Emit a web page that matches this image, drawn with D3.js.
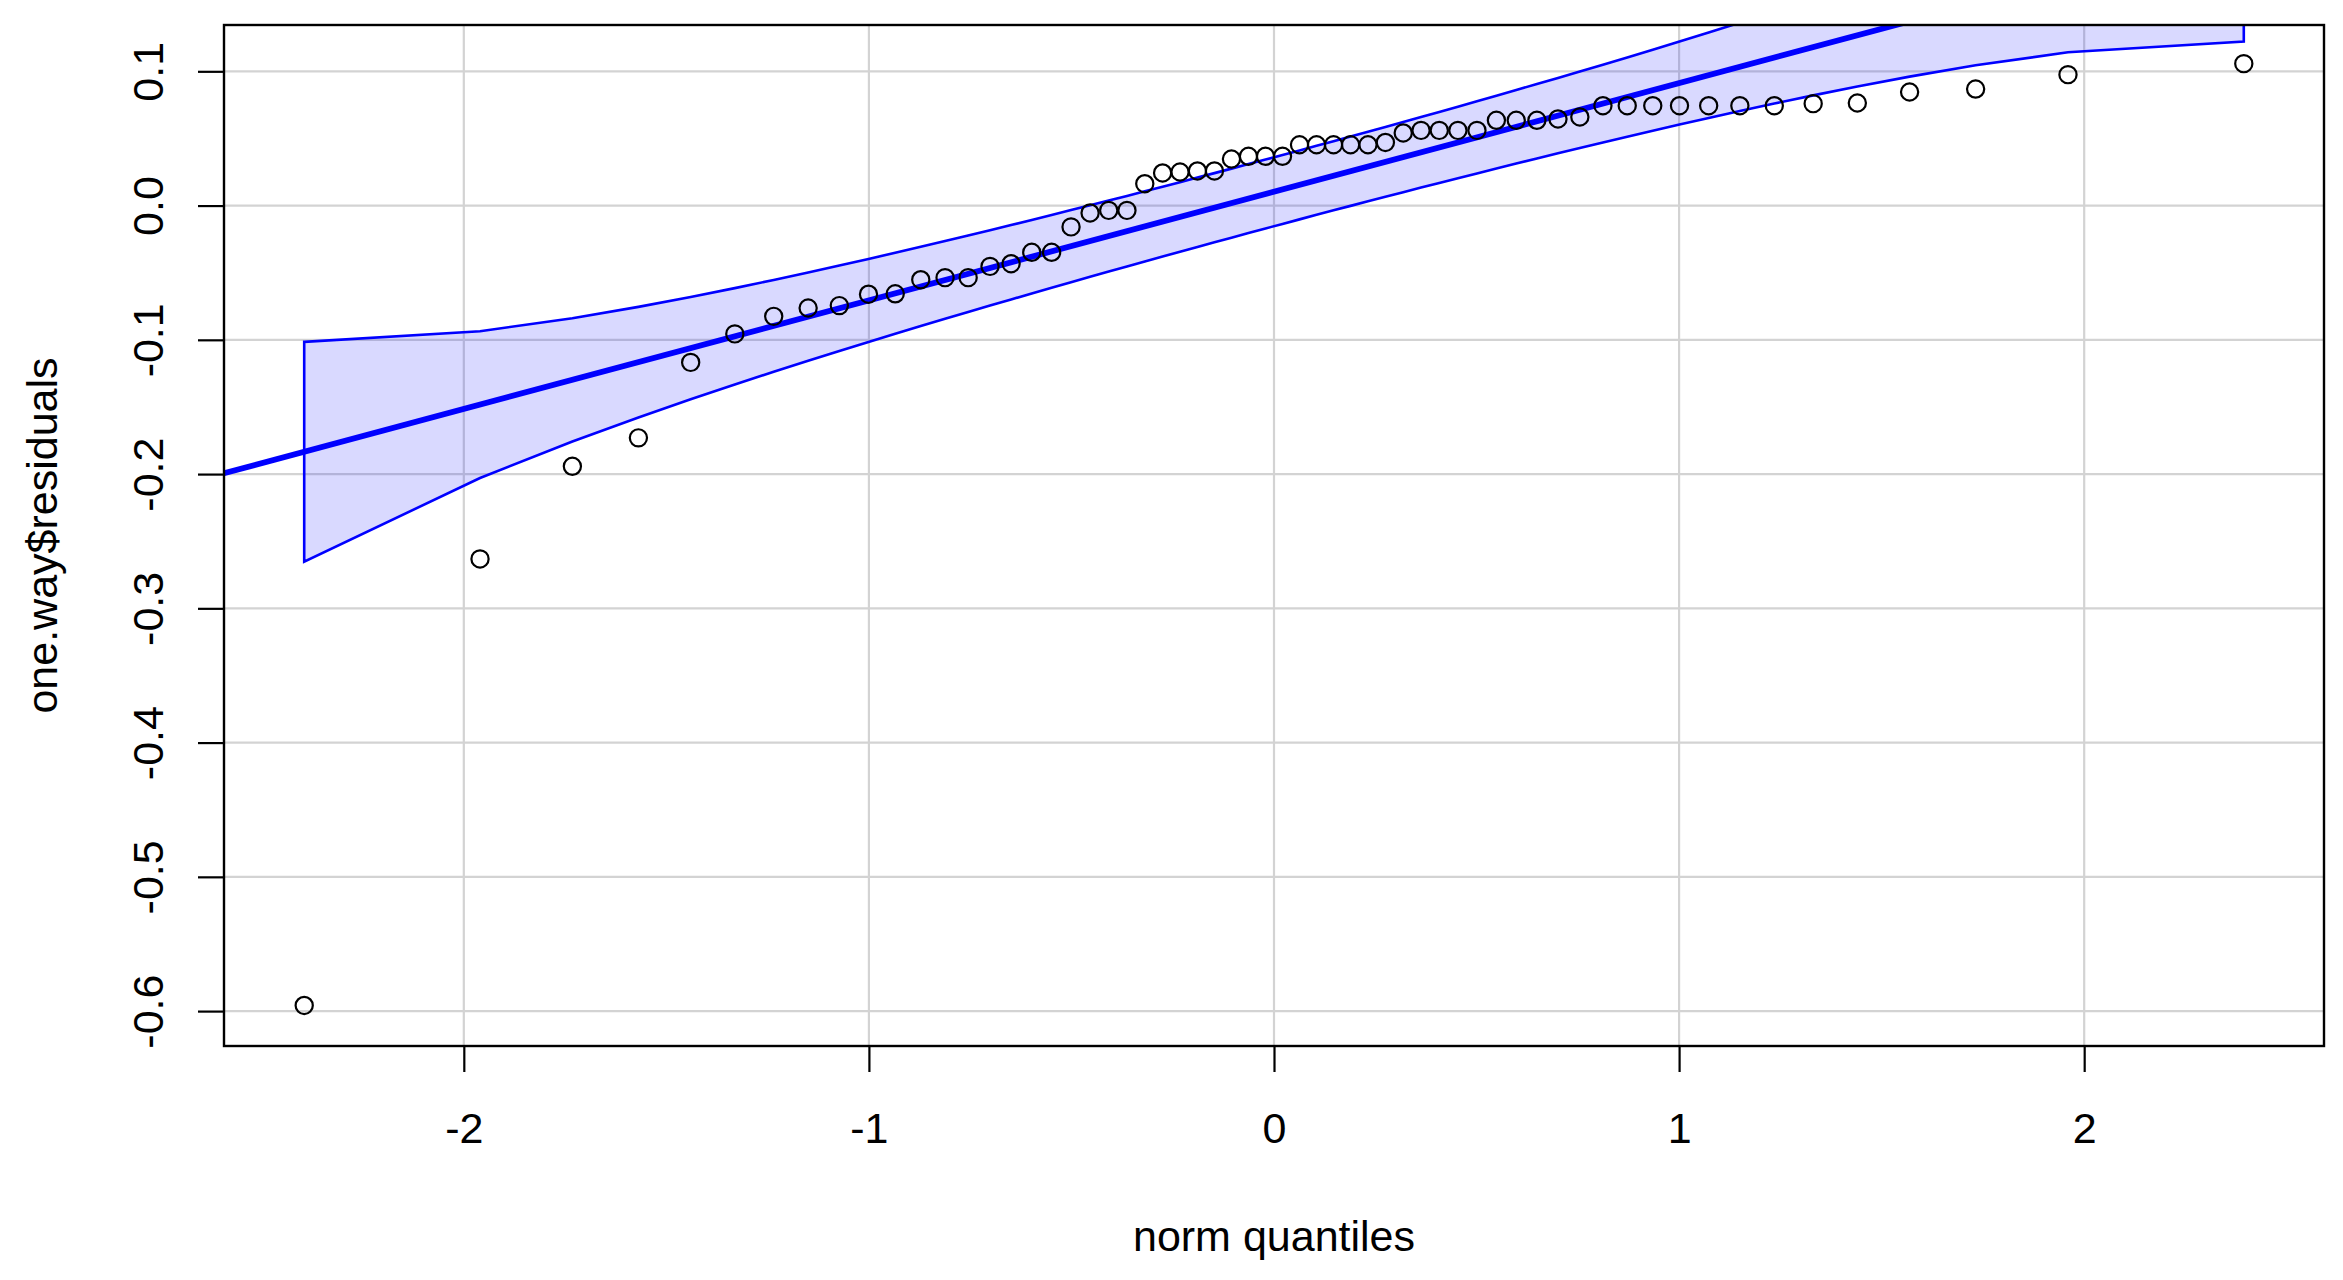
<!DOCTYPE html>
<html>
<head>
<meta charset="utf-8">
<script src="https://cdn.jsdelivr.net/npm/d3@7/dist/d3.min.js"></script>
<style>
  html, body { margin: 0; padding: 0; background: #ffffff; }
  svg { display: block; }
  text { font-family: "Liberation Sans", Arial, sans-serif; fill: #000; }
</style>
</head>
<body>
<svg id="chart" width="2343" height="1280"></svg>
<script>
// ---- data ----
const xQuantiles = [
  -2.394, -1.960, -1.732, -1.569, -1.440, -1.331, -1.235, -1.150, -1.073, -1.001,
  -0.935, -0.872, -0.812, -0.755, -0.701, -0.649, -0.598, -0.549, -0.501, -0.454,
  -0.408, -0.363, -0.319, -0.275, -0.232, -0.189, -0.147, -0.105, -0.063, -0.021,
   0.021,  0.063,  0.105,  0.147,  0.189,  0.232,  0.275,  0.319,  0.363,  0.408,
   0.454,  0.501,  0.549,  0.598,  0.649,  0.701,  0.755,  0.812,  0.872,  0.935,
   1.001,  1.073,  1.150,  1.235,  1.331,  1.440,  1.569,  1.732,  1.960,  2.394
];
const residuals = [
  -0.5958, -0.2632, -0.1942, -0.1730, -0.1168, -0.0956, -0.0825, -0.0763, -0.0745, -0.0660,
  -0.0657, -0.0552, -0.0537, -0.0537, -0.0453, -0.0433, -0.0348, -0.0348, -0.0159, -0.0055,
  -0.0036, -0.0036,  0.0163,  0.0243,  0.0250,  0.0258,  0.0258,  0.0347,  0.0367,  0.0367,
   0.0367,  0.0453,  0.0453,  0.0453,  0.0453,  0.0453,  0.0470,  0.0541,  0.0560,  0.0560,
   0.0560,  0.0560,  0.0635,  0.0635,  0.0635,  0.0645,  0.0660,  0.0744,  0.0744,  0.0744,
   0.0744,  0.0744,  0.0744,  0.0744,  0.0759,  0.0764,  0.0846,  0.0868,  0.0975,  0.1057
];
const envUpper = [
  -0.10150, -0.09358, -0.08387, -0.07545, -0.06808, -0.06148, -0.05542, -0.04986, -0.04469, -0.03976,
  -0.03515, -0.03070, -0.02641, -0.02229, -0.01832, -0.01447, -0.01068, -0.00699, -0.00336,  0.00022,
   0.00374,  0.00721,  0.01063,  0.01406,  0.01744,  0.02083,  0.02417,  0.02752,  0.03088,  0.03426,
   0.03766,  0.04108,  0.04450,  0.04795,  0.05141,  0.05498,  0.05856,  0.06225,  0.06595,  0.06976,
   0.07368,  0.07770,  0.08183,  0.08608,  0.09053,  0.09510,  0.09987,  0.10497,  0.11038,  0.11613,
   0.12220,  0.12893,  0.13622,  0.14440,  0.15388,  0.16492,  0.17841,  0.19637,  0.22354,  0.28584
];
const envLower = [
  -0.26524, -0.20294, -0.17577, -0.15781, -0.14432, -0.13328, -0.12380, -0.11562, -0.10833, -0.10160,
  -0.09553, -0.08978, -0.08437, -0.07927, -0.07450, -0.06993, -0.06548, -0.06123, -0.05710, -0.05308,
  -0.04916, -0.04535, -0.04165, -0.03796, -0.03438, -0.03081, -0.02735, -0.02390, -0.02048, -0.01706,
  -0.01366, -0.01028, -0.00692, -0.00357, -0.00023,  0.00316,  0.00654,  0.00997,  0.01339,  0.01686,
   0.02038,  0.02396,  0.02759,  0.03128,  0.03507,  0.03892,  0.04289,  0.04701,  0.05130,  0.05575,
   0.06036,  0.06529,  0.07046,  0.07602,  0.08208,  0.08868,  0.09605,  0.10447,  0.11418,  0.12210
];
const fitIntercept = 0.0103;
const fitSlope = 0.0809;
const xTicks = [-2, -1, 0, 1, 2];
const xTickLabels = ["-2", "-1", "0", "1", "2"];
const yTicks = [0.1, 0.0, -0.1, -0.2, -0.3, -0.4, -0.5, -0.6];
const yTickLabels = ["0.1", "0.0", "-0.1", "-0.2", "-0.3", "-0.4", "-0.5", "-0.6"];
const xLimits = [-2.592, 2.592];
const yLimits = [-0.626, 0.1345];
const xTitle = "norm quantiles";
const yTitle = "one.way$residuals";

// ---- layout ----
const W = 2343, H = 1280;
const plot = { left: 224, right: 2324, top: 25, bottom: 1046 };
const fontSize = 43;
const tickLen = 26;

const svg = d3.select("#chart");
svg.append("rect").attr("width", W).attr("height", H).attr("fill", "#ffffff");

const x = d3.scaleLinear().domain(xLimits).range([plot.left, plot.right]);
const y = d3.scaleLinear().domain(yLimits).range([plot.bottom, plot.top]);

svg.append("defs").append("clipPath").attr("id", "plotclip")
  .append("rect")
  .attr("x", plot.left).attr("y", plot.top)
  .attr("width", plot.right - plot.left).attr("height", plot.bottom - plot.top);

// grid
const grid = svg.append("g").attr("clip-path", "url(#plotclip)");
grid.selectAll("line.gx").data(xTicks).join("line")
  .attr("x1", d => x(d)).attr("x2", d => x(d))
  .attr("y1", plot.top).attr("y2", plot.bottom)
  .attr("stroke", "#d3d3d3").attr("stroke-width", 2.2);
grid.selectAll("line.gy").data(yTicks).join("line")
  .attr("x1", plot.left).attr("x2", plot.right)
  .attr("y1", d => y(d)).attr("y2", d => y(d))
  .attr("stroke", "#d3d3d3").attr("stroke-width", 2.2);

// envelope
const clipped = svg.append("g").attr("clip-path", "url(#plotclip)");
const envPts = xQuantiles.map((q, i) => [x(q), y(envUpper[i])])
  .concat(xQuantiles.map((q, i) => [x(q), y(envLower[i])]).reverse());
clipped.append("path")
  .attr("d", d3.line()(envPts) + "Z")
  .attr("fill", "rgba(0,0,255,0.15)")
  .attr("stroke", "#0000ff").attr("stroke-width", 2.6)
  .attr("stroke-linejoin", "miter");

// fitted line
clipped.append("line")
  .attr("x1", x(xLimits[0])).attr("y1", y(fitIntercept + fitSlope * xLimits[0]))
  .attr("x2", x(xLimits[1])).attr("y2", y(fitIntercept + fitSlope * xLimits[1]))
  .attr("stroke", "#0000ff").attr("stroke-width", 5.8);

// points
svg.append("g").selectAll("circle").data(xQuantiles).join("circle")
  .attr("cx", d => x(d))
  .attr("cy", (d, i) => y(residuals[i]))
  .attr("r", 8.6)
  .attr("fill", "none").attr("stroke", "#000").attr("stroke-width", 2.2);

// box
svg.append("rect")
  .attr("x", plot.left).attr("y", plot.top)
  .attr("width", plot.right - plot.left).attr("height", plot.bottom - plot.top)
  .attr("fill", "none").attr("stroke", "#000").attr("stroke-width", 2.4);

// x axis
const xAxis = d3.axisBottom(x).tickValues(xTicks).tickSize(tickLen).tickSizeOuter(0)
  .tickFormat((d, i) => xTickLabels[i]);
const gx = svg.append("g").attr("transform", `translate(0,${plot.bottom})`).call(xAxis);
gx.select(".domain").remove();
gx.selectAll(".tick line").attr("stroke", "#000").attr("stroke-width", 2.2);
gx.selectAll(".tick text")
  .attr("font-size", fontSize).attr("font-family", "Liberation Sans, Arial, sans-serif")
  .attr("fill", "#000").attr("dy", null).attr("y", 97);

// y axis
const yAxis = d3.axisLeft(y).tickValues(yTicks).tickSize(tickLen).tickSizeOuter(0)
  .tickFormat((d, i) => yTickLabels[i]);
const gy = svg.append("g").attr("transform", `translate(${plot.left},0)`).call(yAxis);
gy.select(".domain").remove();
gy.selectAll(".tick line").attr("stroke", "#000").attr("stroke-width", 2.2);
gy.selectAll(".tick text")
  .attr("font-size", fontSize).attr("font-family", "Liberation Sans, Arial, sans-serif")
  .attr("fill", "#000")
  .attr("x", null).attr("dy", null)
  .attr("text-anchor", "middle")
  .attr("transform", `translate(${163 - plot.left},0) rotate(-90)`);

// titles
svg.append("text")
  .attr("x", (plot.left + plot.right) / 2).attr("y", 1251)
  .attr("text-anchor", "middle").attr("font-size", fontSize)
  .text(xTitle);
svg.append("text")
  .attr("transform", `translate(57,${(plot.top + plot.bottom) / 2}) rotate(-90)`)
  .attr("text-anchor", "middle").attr("font-size", fontSize)
  .text(yTitle);
</script>
</body>
</html>
